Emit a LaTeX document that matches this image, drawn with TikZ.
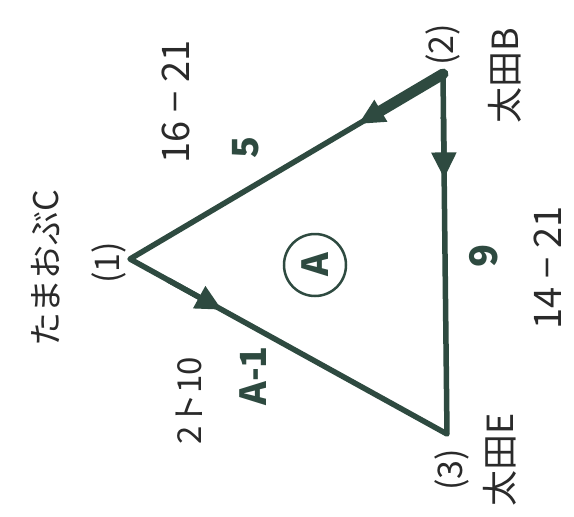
\documentclass[tikz,border=0pt]{standalone}
\usepackage{fontspec}
\setmainfont{Noto Sans CJK JP}
\usetikzlibrary{arrows.meta,calc}
\definecolor{ink}{HTML}{2E4A40}
\definecolor{pencil}{HTML}{2A2A2A}
\tikzset{
  edge/.style={draw=ink,line width=5.5pt,line cap=round,line join=round},
  tip/.style={draw=ink,line width=5.5pt,-{Triangle[length=26pt,width=24pt]}},
  lbl/.style={text=pencil,rotate=90,inner sep=0pt,font=\fontsize{#1}{#1}\selectfont},
  blbl/.style={text=ink,rotate=90,inner sep=0pt,font=\fontsize{#1}{#1}\selectfont\bfseries},
}
\begin{document}
\begin{tikzpicture}[x=1pt,y=-1pt]
\useasboundingbox (0,0) rectangle (574,517);
\fill[white] (0,0) rectangle (574,517);
% vertices
\coordinate (v1) at (130,259);
\coordinate (v2) at (443,74);
\coordinate (v3) at (447,434);
% edges
\draw[edge] (v1) -- (v2) -- (v3) -- cycle;
\draw[ink,line width=11pt,line cap=round] (v2) -- ($(v2)!0.2!(v1)$);
% arrows
\coordinate (a1s) at ($(v2)!0.12!(v1)$);
\coordinate (a1e) at ($(v2)!0.27!(v1)$);
\coordinate (a2s) at ($(v2)!0.12!(v3)$);
\coordinate (a2e) at ($(v2)!0.29!(v3)$);
\coordinate (a3s) at ($(v1)!0.12!(v3)$);
\coordinate (a3e) at ($(v1)!0.29!(v3)$);
\draw[tip] (a1s) -- (a1e);
\draw[tip] (a2s) -- (a2e);
\draw[tip] (a3s) -- (a3e);
% labels
\node[lbl=34] (tama) at (46,268) {たまおぶC};
\node[lbl=34] (n1) at (109,263) {(1)};
\node[lbl=34] (n2) at (443,45) {(2)};
\node[lbl=34] (n3) at (452,470) {(3)};
\node[lbl=36] (oB) at (505,76) {太田B};
\node[lbl=36] (oE) at (500,460) {太田E};
\node[lbl=38] (r1) at (176,102) {16 − 21};
\node[lbl=38] (r2) at (548,268) {14 − 21};
\node[lbl=33] (r3) at (189,401) {2ト10};
\node[blbl=36] (e5) at (246,148) {5};
\node[blbl=38] (e9) at (484,256) {9};
\node[blbl=36] (a1) at (253,376) {A-1};
\node[draw=ink,line width=2.5pt,circle,minimum size=62pt,inner sep=0pt,text=ink,rotate=90,font=\fontsize{36}{36}\selectfont\bfseries] (cA) at (315,265) {A};
\end{tikzpicture}
\end{document}
